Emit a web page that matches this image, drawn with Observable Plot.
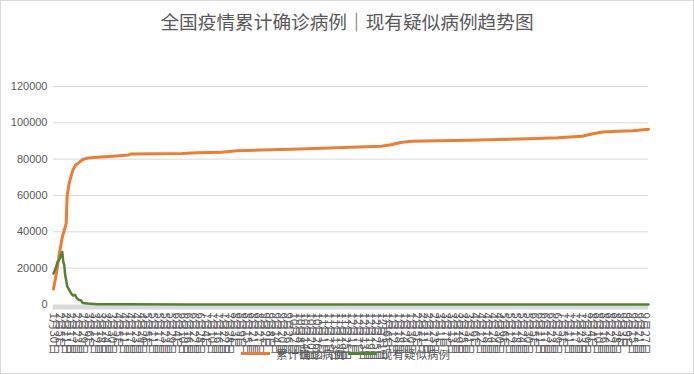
<!DOCTYPE html>
<html>
<head>
<meta charset="utf-8">
<script src="https://cdn.jsdelivr.net/npm/d3@7"></script>
<script src="https://cdn.jsdelivr.net/npm/@observablehq/plot@0.6"></script>
<style>
  html, body { margin: 0; padding: 0; background: #fff; }
  #wrap { position: relative; width: 694px; height: 374px; overflow: hidden; background: #fff; }
  #title { height: 56px; line-height: 42px; text-align: center; font-family: "Noto Sans CJK SC", sans-serif; font-size: 18.67px; color: #595959; }
  #border { position: absolute; left: 0; top: 0; width: 694px; height: 374px; box-sizing: border-box; border: 1px solid #d9d9d9; pointer-events: none; }
  .sw { position: absolute; height: 3px; width: 29px; top: 352px; }
  .lt { position: absolute; top: 345px; font-family: "Noto Sans CJK SC", sans-serif; font-size: 11.5px; line-height: 18px; color: #595959; white-space: nowrap; }
</style>
</head>
<body>
<div id="wrap">
  <div id="title">全国疫情累计确诊病例｜现有疑似病例趋势图</div>
  <div id="chart"></div>
  <div class="sw" style="left:241px;background:#ED7D31"></div>
  <div class="lt" style="left:276px">累计确诊病例</div>
  <div class="sw" style="left:348px;background:#548235"></div>
  <div class="lt" style="left:381px">现有疑似病例</div>
  <div id="border"></div>
</div>
<script>
// 累计确诊病例 (cumulative confirmed)
const confirmedDates = [
  "2020-01-30","2020-02-02","2020-02-05","2020-02-08","2020-02-12","2020-02-13","2020-02-15","2020-02-17",
  "2020-02-19","2020-02-22","2020-02-25","2020-02-29","2020-03-05","2020-03-15","2020-03-31","2020-04-10",
  "2020-04-16","2020-04-18","2020-05-15","2020-06-10","2020-06-25","2020-07-20","2020-08-05","2020-08-30",
  "2020-09-30","2020-10-31","2020-11-30","2020-12-31","2021-01-10","2021-01-20","2021-01-31","2021-02-28",
  "2021-03-31","2021-04-30","2021-05-31","2021-06-30","2021-07-25","2021-08-05","2021-08-15","2021-08-31",
  "2021-09-15","2021-10-01"
];
const confirmedValues = [
  8500, 17200, 28000, 37000, 44700, 59800, 66500, 70500,
  74200, 76900, 78100, 79800, 80600, 81000, 81600, 82000,
  82300, 82800, 83000, 83100, 83500, 83800, 84600, 85000,
  85400, 86000, 86500, 87100, 87900, 89200, 89900, 90100,
  90400, 90800, 91300, 91800, 92600, 94000, 95000, 95300,
  95700, 96500
];
// 现有疑似病例 (current suspected)
const suspectedDates = [
  "2020-01-30","2020-02-01","2020-02-03","2020-02-05","2020-02-07","2020-02-08","2020-02-09","2020-02-10",
  "2020-02-11","2020-02-12","2020-02-13","2020-02-15","2020-02-17","2020-02-19","2020-02-21","2020-02-23",
  "2020-02-25","2020-02-27","2020-02-29","2020-03-05","2020-03-15","2020-04-15","2020-06-15","2020-09-15",
  "2020-12-15","2021-03-15","2021-06-15","2021-09-15","2021-10-01"
];
const suspectedValues = [
  17000, 19500, 23200, 24700, 27600, 28900, 23600, 21700,
  16100, 13400, 10100, 8200, 6200, 4900, 5300, 3400,
  2500, 2300, 850, 500, 150, 80, 20, 10,
  10, 5, 5, 5, 5
];
const yTicks = [0, 20000, 40000, 60000, 80000, 100000, 120000];
const xStart = new Date("2020-01-30");
const xEnd = new Date("2021-10-01");
const xTicks = d3.utcDay.range(xStart, new Date("2021-10-02"), 6);

const confirmed = confirmedDates.map((d, i) => ({date: new Date(d), value: confirmedValues[i]}));
const suspected = suspectedDates.map((d, i) => ({date: new Date(d), value: suspectedValues[i]}));

const fmtDay = d => `${d.getUTCMonth() + 1}月${d.getUTCDate()}日`;

const chart = Plot.plot({
  width: 694,
  height: 318,
  marginTop: 30,
  marginBottom: 70,
  marginLeft: 53,
  marginRight: 46,
  style: {fontFamily: "'Liberation Sans', 'Noto Sans CJK SC', sans-serif", color: "#595959", background: "transparent", overflow: "visible"},
  x: {type: "utc", domain: [xStart, xEnd]},
  y: {domain: [0, 120000]},
  marks: [
    Plot.gridY(yTicks.filter(v => v > 0), {stroke: "#d9d9d9", strokeOpacity: 1}),
    Plot.ruleY([0], {stroke: "#d9d9d9", strokeWidth: 5, dy: 2.5}),
    Plot.axisY({ticks: yTicks, tickSize: 0, tickPadding: 6, tickFormat: d3.format("d"), fontSize: 11, fill: "#595959", label: null}),
    Plot.axisX({ticks: xTicks, tickFormat: fmtDay, tickRotate: 90, tickSize: 0, tickPadding: 8, fontSize: 11.5, fill: "#595959", label: null, fontFamily: "'Noto Sans CJK SC', sans-serif"}),
    Plot.line(confirmed, {x: "date", y: "value", stroke: "#ED7D31", strokeWidth: 3}),
    Plot.line(suspected, {x: "date", y: "value", stroke: "#548235", strokeWidth: 2.5})
  ]
});
document.getElementById("chart").appendChild(chart);
</script>
</body>
</html>
